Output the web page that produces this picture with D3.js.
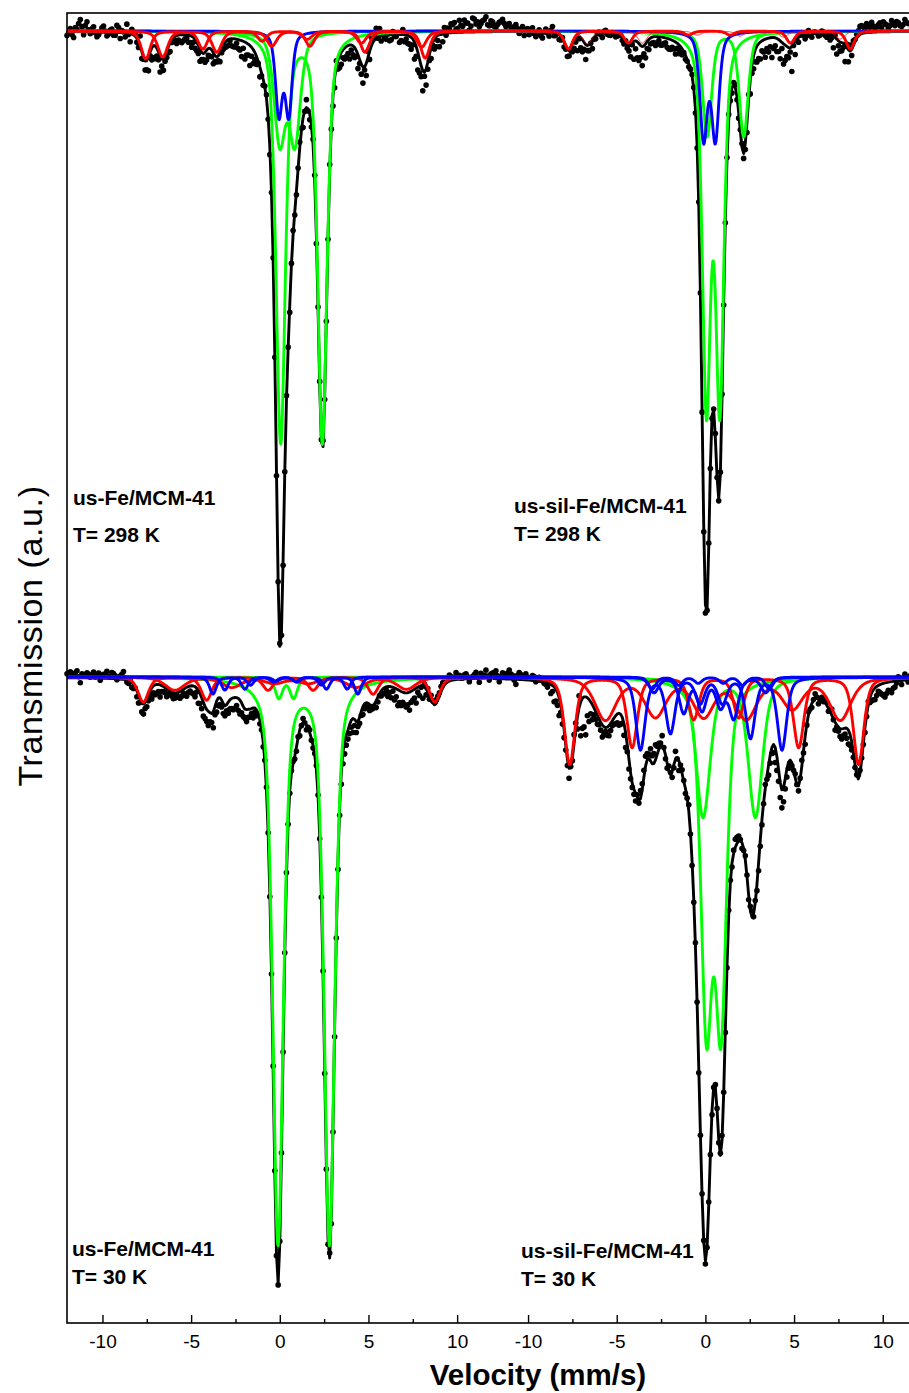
<!DOCTYPE html>
<html><head><meta charset="utf-8">
<script src="https://cdn.jsdelivr.net/npm/d3@7"></script>
<style>body{margin:0;background:#fff}</style>
</head><body>
<svg id="chart" width="909" height="1393"></svg>
<script>
// ---------------- DATA ----------------
const velocityDomain = [-12, 12];
const velocityTicks = [-10, -5, 0, 5, 10];
const velocityMinorTicks = [-7.5, -2.5, 2.5, 7.5];
const baselineAU = 1000;          // transmission baseline (a.u.)
const lineShapeEta = 0.5;         // Lorentzian fraction of the line shape

// sub-spectra: line positions (mm/s), line depths (a.u.), FWHM (mm/s)
// top-left: us-Fe/MCM-41, 298 K
const tlGreen = [
  {pos: [0.05, 2.4], depth: [410, 410], w: 0.62},
  {pos: [0.0, 0.85], depth: [108, 108], w: 0.75}
];
const tlBlue = [
  {pos: [-0.05, 0.5], depth: [82, 82], w: 0.45}
];
const tlRed = [
  {pos: [-7.56, -4.34, -1.0, 1.7, 4.8, 8.2], depth: [28, 18, 10, 15, 21, 27], w: 0.6},
  {pos: [-6.6, -3.55, -0.45, 1.55, 4.6, 8.0], depth: [26, 21, 15, 8, 12, 16], w: 0.65}
];
// top-right: us-sil-Fe/MCM-41, 298 K
const trGreen = [
  {pos: [0.06, 0.81], depth: [367, 367], w: 0.55},
  {pos: [0.1, 2.16], depth: [105, 105], w: 0.6}
];
const trBlue = [
  {pos: [-0.1, 0.56], depth: [106, 106], w: 0.5}
];
const trRed = [
  {pos: [-7.72, -4.34, -0.96, 1.4, 4.8, 8.17], depth: [18, 12, 4, 4, 12, 18], w: 0.55}
];
const trRedThin = [
  {pos: [-6.65, -3.55, -0.45, 1.95, 4.4, 7.6], depth: [13, 12, 4, 5, 6, 8], w: 0.6}
];
// bottom-left: us-Fe/MCM-41, 30 K
const blGreen = [
  {pos: [-0.1, 2.8], depth: [565, 565], w: 0.7},
  {pos: [-0.05, 0.78], depth: [21, 21], w: 0.5}
];
const blRed = [
  {pos: [-7.7, -4.13, -0.66, 1.88, 5.26, 8.74], depth: [25, 23, 13, 13, 17, 25], w: 0.7},
  {pos: [-5.92, -2.7, -0.3, 1.6, 4.3, 7.14], depth: [13, 10, 6, 6, 10, 12], w: 1.3}
];
const blBlue = [
  {pos: [-3.77, -1.97, -0.35, 0.95, 2.63, 4.4], depth: [17, 12, 5, 5, 12, 17], w: 0.45},
  {pos: [-3.1, -1.65, -0.2, 0.9, 2.35, 3.8], depth: [13, 8, 4, 4, 8, 12], w: 0.45}
];
// bottom-right: us-sil-Fe/MCM-41, 30 K
const brGreen = [
  {pos: [0.06, 0.88], depth: [336, 336], w: 0.75},
  {pos: [-0.13, 2.82], depth: [139, 139], w: 0.95}
];
const brRed = [
  {pos: [-7.65, -4.13, -0.66, 1.88, 5.26, 8.64], depth: [87, 70, 42, 40, 70, 87], w: 0.7},
  {pos: [-5.64, -2.82, -0.1, 2.3, 4.9, 7.61], depth: [42, 38, 38, 40, 30, 42], w: 1.4}
];
const brBlue = [
  {pos: [-3.66, -1.97, -0.3, 0.96, 2.54, 4.32], depth: [72, 55, 25, 25, 60, 72], w: 0.62},
  {pos: [-2.9, -1.22, -0.19, 0.85, 1.6, 3.4], depth: [15, 35, 32, 28, 40, 15], w: 0.6},
  {pos: [-3.0, -1.5, -0.4, 1.0, 2.1, 3.6], depth: [12, 8, 6, 6, 8, 12], w: 0.5}
];

// measured points: deviation (a.u.) of each point from the fit.
// set A: channels every 0.1875 mm/s from -12; set B: the channels in between (from -11.906)
const tlResidualA = [-4,3,-6,2,12,-3, 10,-2,5,-5,0, 6,-4,2,-3,7, -6,1,9,-8,3,-4, 10,-2,-9,-4,-12, -8,-16,-11,-6,-9,
  -4,-8,2,-6,-3,-7, -5,-9,-12,-6,-10, -8,-11,-5,-9,-4, -6,-2,-8,-4,-10,-7, -12,-20,-14,-8,-10, -6,4,-8,3,-5,
  3,-6,5,-8,4,-4, 6,-10,8,-6,5, -8,4,6,-5,8,-10, 6,-12,-8,-10,-14, -9,-6,-4,-16,-12, -8,3,10,8,2,-4,
  -6,3,-2,-8,5, -4,-8,-6,-10,-14, -20,-16,-6,-3,-10,-12, -8,-2,4,8,3, 12,6,9,2,14, 8,5,11,15,6,10];
const tlResidualB = [-1,-3,4,8,5,6,2,3, -1,-3,4,1,-2,3,-3,5, 2,-4,-1,5,3,-6,-7,-9, -14,-12,-13,-8,-7,-5,-6,-3,
  -4,-5,-8,-4,-7,-11,-9,-8, -7,-10,-7,-7,-6,-5,-4,-5, -6,-7,-8,-9,-16,-17,-11,-9, -7,-2,-3,1,-2,0,-2,1,
  -3,0,2,1,-3,1,2,-1, -2,-3,5,1,2,-4,-2,-3, -10,-9,-12,-11,-8,-5,-10,-14, -10,-3,6,9,5,-1,-5,-2,
  1,-5,-2,1,-6,-7,-8,-12, -17,-18,-11,-4,-7,-11,-10,-5, 1,6,5,9,10,4,7,12, 9,6,13,10,8,12,7,11];
const trResidualA = [6,4,9,12,5,8, 3,7,-2,5,1, -3,4,-5,2,-6, 3,-4,6,-2,-5,1, -3,-6,-8,-4,-2, -12,-15,-6,-9,-3,
  2,-4,3,-2,1,-3, 0,-3,2,-5,-2, -8,-17,-19,-14,-10, -6,-9,-4,-8,-5,-10, -7,-12,-9,-6,-4, -3,2,-4,3,-2,
  -8,4,-3,5,-2,3, -4,6,-5,3,-6, 4,-6,5,-8,-12,-15, -10,-18,-14,-20,-8, -12,-6,-15,-10,-25, -14,-6,2,-5,3,-4,
  1,-3,2,-2,0, -3,2,-5,-8,-17, -12,-6,2,5,8,3, 6,10,2,7,4, 8,3,11,6,9, 5,12,8,4,10,7];
const trResidualB = [5,7,10,8,6,4,5,3, 2,-4,3,1,-2,-1,-4,0, -1,2,-3,1,-4,-5,-7,-3, -8,-14,-10,-7,-5,-1,-2,1,
  -1,2,-1,-2,-1,-2,1,-4, -3,-12,-18,-16,-12,-8,-7,-6, -6,-7,-8,-6,-9,-10,-8,-5, -4,-1,-2,0,1,-3,2,-5,
  0,-2,1,-1,2,-3,1,-2, 2,-3,1,-5,-10,-14,-13,-16, -17,-12,-10,-9,-11,-13,-18,-20, -10,-4,-2,-1,0,-1,-2,-1,
  1,0,-2,1,-4,-6,-12,-15, -9,-4,3,6,5,4,8,6, 9,5,6,5,9,10,7,6, 8,10,6,7,9,8,5,8];
const blResidualA = [4,6,2,7,-5,3, 5,1,6,3,-2, 4,7,2,5,-1, 3,8,-2,1,-4,-6, -3,-10,-8,-4,-7, -9,-12,-5,-8,-3,
  -6,-2,-7,-4,-9,-5, -8,-4,-10,-14,-12, -9,-16,-11,-7,-10, -6,-9,-12,-8,-14,-10, -12,-8,-10,-6,-4, -5,3,-4,4,-2,
  2,-3,4,-3,2,-4, -6,4,-5,3,-3, 4,-3,3,-4,5,-6, -4,-8,-12,-10,-9, -14,-11,-6,-8,-4, -6,-3,-7,-2,-5,-3,
  -6,-4,-8,-12,-10, -14,-18,-10,-15,-9, -12,-6,-4,2,4,3, 5,2,6,3,7, 4,1,5,-3,2, 6,-4,3,8,-2,5];
const blResidualB = [5,4,5,1,4,3,4,2, 1,5,3,4,2,6,3,1, 5,2,-3,-5,-1,-8,-9,-6, -6,-11,-10,-7,-6,-5,-4,-4,
  -5,-5,-6,-7,-6,-7,-10,-13, -11,-12,-14,-9,-8,-8,-7,-10, -11,-10,-11,-12,-10,-9,-8,-5, -4,-1,-1,1,0,-1,1,-2,
  1,0,-1,2,-3,1,-1,0, 1,-2,1,0,-2,-5,-6,-10, -11,-9,-12,-13,-9,-7,-6,-5, -4,-5,-4,-4,-3,-5,-5,-6,
  -10,-11,-12,-16,-14,-12,-12,-11, -9,-5,-1,3,3,4,3,4, 5,4,2,3,2,3,1,4, 2,1,4,1,5,3,2,4];
const brResidualA = [5,8,-3,6,2,9, 4,-5,7,3,6, 2,5,-1,4,3, -2,1,-6,-12,-18,-8, -5,-10,-3,6,12, -30,-38,-22,-15,-8,
  -6,-12,-4,-10,-5,-8, -12,-6,-15,-10,-4, -8,-3,6,10,4, 8,15,6,10,-4,5, -6,8,-10,4,-5, 6,-4,3,-6,2,
  -3,4,-5,3,-4,5, -3,6,-4,8,5, -6,4,-5,6,2,-8, -5,4,-10,-6,-15, -12,-18,-10,-6,-3, 4,-5,6,-8,3,-4,
  5,-6,2,4,-3, 6,-8,-4,-10,-6, -14,-8,-3,4,2,-5, 3,-8,-12,-6,-10, -14,-8,-11,-6,4, -4,6,-2,3,5,-3];
const brResidualB = [6,3,2,4,6,5,-1,4, 5,4,3,2,4,1,3,-1, -4,-9,-15,-13,-7,-8,-6,1, 9,-12,-34,-30,-18,-12,-7,-9,
  -8,-7,-8,-7,-6,-9,-10,-12, -7,-6,-5,2,8,7,6,12, 10,8,3,1,-5,2,-3,-1, 1,1,-1,-2,-3,0,-1,1,
  0,-1,-1,1,2,1,-1,2, 3,6,1,-2,1,4,-3,-6, -6,-1,-3,-8,-8,-14,-15,-14, -8,-4,-1,0,1,-2,-1,-1,
  1,1,-2,-1,3,1,-1,-2, -8,-7,-10,-11,-5,0,3,-1, -2,-5,-10,-9,-8,-12,-11,-9, -7,-2,1,2,1,4,4,1];

const sampleNames = ["us-Fe/MCM-41", "us-sil-Fe/MCM-41", "us-Fe/MCM-41", "us-sil-Fe/MCM-41"];
const temperatureLabels = ["T= 298 K", "T= 298 K", "T= 30 K", "T= 30 K"];
const xTitle = "Velocity (mm/s)";
const yTitle = "Transmission (a.u.)";

// ---------------- DRAWING ----------------
const svg = d3.select("#chart");
const FONT = "'Liberation Sans', Arial, Helvetica, sans-serif";
const COL = {green: "#00ff00", blue: "#0000ff", red: "#ff0000", black: "#000000"};

const frame = {left: 67, top: 13, bottom: 1323, mid: 492.6, right: 918.2};
const xLeft = d3.scaleLinear().domain(velocityDomain).range([frame.left, frame.mid]);
const xRight = d3.scaleLinear().domain(velocityDomain).range([frame.mid, frame.right]);
const yTop = d3.scaleLinear().domain([baselineAU, 0]).range([31, 1031]);
const yBottom = d3.scaleLinear().domain([baselineAU, 0]).range([677, 1677]);

const K = 4 * Math.LN2;
function shape(dv, w) { const u = dv / w; return lineShapeEta / (1 + 4 * u * u) + (1 - lineShapeEta) * Math.exp(-K * u * u); }
function absorption(site, v) { let s = 0; site.pos.forEach((p, k) => { s += site.depth[k] * shape(v - p, site.w); }); return s; }

const fineV = d3.range(0, 801).map(k => velocityDomain[0] + k * 0.03);
const channelV = d3.range(0, 257).map(k => velocityDomain[0] + k * 0.09375);
const pointVA = d3.range(0, 129).map(k => velocityDomain[0] + k * 0.1875);
const pointVB = d3.range(0, 128).map(k => velocityDomain[0] + 0.09375 + k * 0.1875);

const panels = [
  {x: xLeft, y: yTop, green: tlGreen, blue: tlBlue, red: tlRed, thin: [], resA: tlResidualA, resB: tlResidualB,
   order: ["green", "blue", "red"], label: [73, 505, 541.5]},
  {x: xRight, y: yTop, green: trGreen, blue: trBlue, red: trRed, thin: trRedThin, resA: trResidualA, resB: trResidualB,
   order: ["green", "blue", "thin", "red"], label: [514, 513, 540.5]},
  {x: xLeft, y: yBottom, green: blGreen, blue: blBlue, red: blRed, thin: [], resA: blResidualA, resB: blResidualB,
   order: ["green", "red", "blue"], label: [72, 1255.5, 1283.5]},
  {x: xRight, y: yBottom, green: brGreen, blue: brBlue, red: brRed, thin: [], resA: brResidualA, resB: brResidualB,
   order: ["green", "red", "blue"], label: [521, 1257.5, 1285.5]}
];

panels.forEach((p, pi) => {
  const g = svg.append("g");
  const sites = [...p.green, ...p.blue, ...p.red, ...p.thin];
  const fit = v => baselineAU - d3.sum(sites, s => absorption(s, v));
  const line = d3.line().x(d => p.x(d[0])).y(d => p.y(d[1]));

  const pts = pointVA.map((v, i) => [v, fit(v) + (p.resA[i] || 0)])
    .concat(pointVB.map((v, i) => [v, fit(v) + (p.resB[i] || 0)]));
  g.append("g").selectAll("circle").data(pts).join("circle")
    .attr("cx", d => p.x(d[0])).attr("cy", d => p.y(d[1])).attr("r", 2.8).attr("fill", "#000");

  g.append("path").datum(channelV.map(v => [v, fit(v)]))
    .attr("d", line).attr("fill", "none").attr("stroke", COL.black).attr("stroke-width", 2.9).attr("stroke-linejoin", "round");

  p.order.forEach(key => {
    const color = key === "thin" ? COL.red : COL[key];
    const sw = key === "thin" ? 0.8 : 2.9;
    p[key].forEach(site => {
      g.append("path").datum(fineV.map(v => [v, baselineAU - absorption(site, v)]))
        .attr("d", line).attr("fill", "none").attr("stroke", color).attr("stroke-width", sw).attr("stroke-linejoin", "round");
    });
  });

  const t = svg.append("g").attr("font-family", FONT).attr("font-weight", "bold").attr("font-size", 21).attr("fill", "#000");
  t.append("text").attr("x", p.label[0]).attr("y", p.label[1]).text(sampleNames[pi]);
  t.append("text").attr("x", p.label[0]).attr("y", p.label[2]).text(temperatureLabels[pi]);
});

// frame
svg.append("rect").attr("x", frame.left).attr("y", frame.top)
  .attr("width", frame.right - frame.left).attr("height", frame.bottom - frame.top)
  .attr("fill", "none").attr("stroke", "#000").attr("stroke-width", 1.6);

// axes
[xLeft, xRight].forEach(sc => {
  const major = svg.append("g").attr("transform", `translate(0,${frame.bottom})`)
    .call(d3.axisBottom(sc).tickValues(velocityTicks).tickFormat(d3.format("d"))
      .tickSizeInner(-8).tickSizeOuter(0).tickPadding(12));
  major.select(".domain").remove();
  major.selectAll("line").attr("stroke-width", 1.4);
  major.selectAll("text").attr("font-family", FONT).attr("font-size", 19).text(d => d < 0 ? "-" + Math.abs(d) : d);
  const minor = svg.append("g").attr("transform", `translate(0,${frame.bottom})`)
    .call(d3.axisBottom(sc).tickValues(velocityMinorTicks).tickFormat("").tickSizeInner(-4).tickSizeOuter(0));
  minor.select(".domain").remove();
  minor.selectAll("line").attr("stroke-width", 1.4);
});

svg.append("text").attr("x", 538).attr("y", 1385).attr("text-anchor", "middle")
  .attr("font-family", FONT).attr("font-weight", "bold").attr("font-size", 29.5).text(xTitle);
svg.append("text").attr("transform", "translate(42,636) rotate(-90)").attr("text-anchor", "middle")
  .attr("font-family", FONT).attr("font-size", 34).attr("letter-spacing", 0.6).text(yTitle);
</script>
</body></html>
